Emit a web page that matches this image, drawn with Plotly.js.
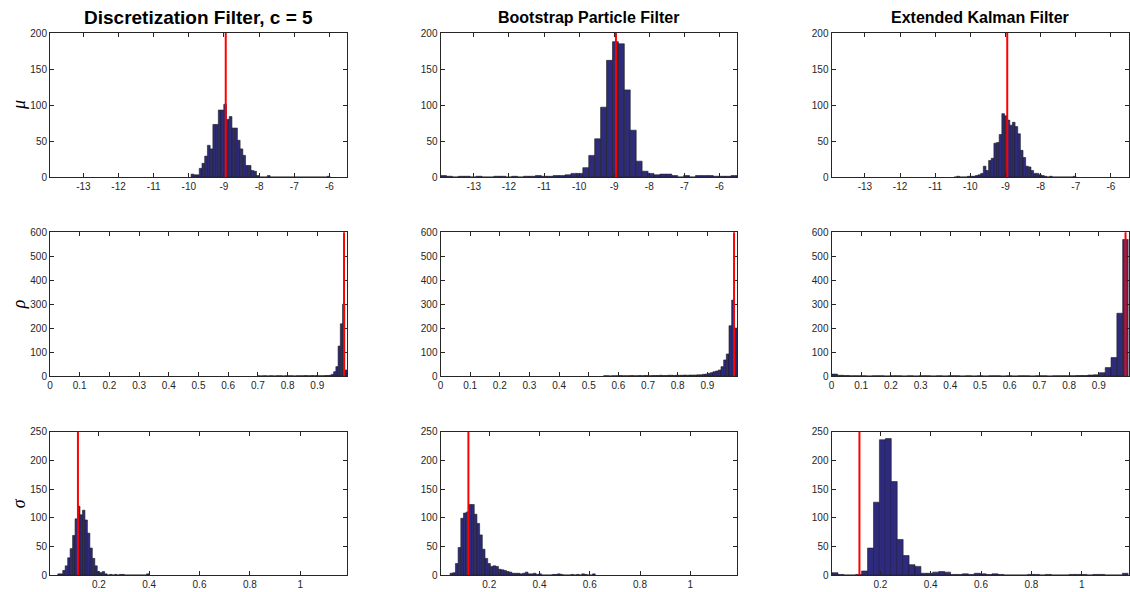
<!DOCTYPE html>
<html><head><meta charset="utf-8">
<script src="https://cdn.plot.ly/plotly-3.0.1.min.js"></script>
<style>html,body{margin:0;padding:0;background:#fff}#chart{width:1130px;height:592px}</style>
</head><body><div id="chart"></div>
<script>
// ---- Data ----
const columnTitles = ["Discretization Filter, c = 5", "Bootstrap Particle Filter", "Extended Kalman Filter"];
const rowLabels = ["μ", "ρ", "σ"];
const trueValues = [-8.95, 0.99, 0.117];   // red reference lines (mu, rho, sigma)

const muTicks = [-13, -12, -11, -10, -9, -8, -7, -6];
const rhoTicks = [0, 0.1, 0.2, 0.3, 0.4, 0.5, 0.6, 0.7, 0.8, 0.9];
const sigmaTicks = [0.2, 0.4, 0.6, 0.8, 1];

// histogram bins: first bin left edge, bin width, counts
const muDiscStart = -9.936, muDiscWidth = 0.0775;
const muDiscCounts = [4,3,3,12,19,29,44,39,73,73,93,93,101,80,84,68,68,51,39,30,16,16,9,8,2,
  0,0,0,2,0, 0,0,0,0,0, 0,0,0,0,0, 0,0,0,0,0, 0,0,0,0,0, 1];

const muBpfStart = -13.95, muBpfWidth = 0.169;
const muBpfCounts = [2,1,0,1,1,0,1,0,0,1,1,0,1,0,1,1,2,1,1,2,2,3,
  5,5,13,30,53,97,162,188,185,121,65,22,8,5,3,4,4,2,0,2,0,2,2,2,1,1,1,2];

const muEkfStart = -10.459, muEkfWidth = 0.0753;
const muEkfCounts = [0,1,0,0,0,1,1,1,2,3,5,15,9,23,26,47,48,59,88,85,79,72,76,70,60,37,27,15,14,9,5,5,3,2,1,0,1,
  0,0,0,0,0,0,0,0,1];

const rhoDiscStart = 0.7, rhoDiscWidth = 0.0075;
const rhoDiscCounts = [1,0,1,1,0,1,1,0,1,1,1,0,1,1,1,1,0,1,1,1,1,2,1,1,2,1,2,
  1,1,1,2,2,3,7,18,39,125,218,300,25];

const rhoBpfStart = 0.55, rhoBpfWidth = 0.009;
const rhoBpfCounts = [1,1,0,1,1,1,2,1,1,1,2,1,1,2,1,2,2,1,2,2,2,3,2,2,3,3,2,3,3,3,4,3,4,4,
  4,5,5,7,8,11,14,18,21,25,39,67,92,210,317,200];

const rhoEkfStart = 0.0004, rhoEkfWidth = 0.0196;
const rhoEkfCounts = [8,3,2,1,1,1,0,1,1,0,1,1,0,1,0,1,1,0,1,0,1,1,0,1,0,1,0,1,1,0,1,0,1,1,0,1,1,0,1,
  1,1,1,2,2,4,5,14,35,77,262,570];

const sigmaDiscStart = 0.037, sigmaDiscWidth = 0.0098;
const sigmaDiscCounts = [2,2,8,16,30,46,69,98,120,105,113,96,73,47,29,16,6,4,6,2,
  0,1,0,1,0,1,1,0,0,0, 0,0,0,0,0,0,2];

const sigmaBpfStart = 0.044, sigmaBpfWidth = 0.0107;
const sigmaBpfCounts = [3,4,20,48,99,108,110,123,123,106,90,70,45,29,20,15,16,15,10,9,
  8,6,5,3,3,3,2,3,5,2,2,3,1,2,0,0,0,0,1,1,2,1,0,0,0,1,0,1,0,2,1,0,0,2];

const sigmaEkfStart = 0.008, sigmaEkfWidth = 0.02355;
const sigmaEkfCounts = [4,1,0,0,1,7,47,127,236,238,163,62,34,18,15,3,3,5,6,5,
  1,1,2,1,3,2,1,2,1,0,0,0,0,1,1,0,1,0,0,0,1,1,1,0,1,1,0,0,0,3];

// ---- Build ----
const panels = [
  [muDiscStart, muDiscWidth, muDiscCounts], [muBpfStart, muBpfWidth, muBpfCounts], [muEkfStart, muEkfWidth, muEkfCounts],
  [rhoDiscStart, rhoDiscWidth, rhoDiscCounts], [rhoBpfStart, rhoBpfWidth, rhoBpfCounts], [rhoEkfStart, rhoEkfWidth, rhoEkfCounts],
  [sigmaDiscStart, sigmaDiscWidth, sigmaDiscCounts], [sigmaBpfStart, sigmaBpfWidth, sigmaBpfCounts], [sigmaEkfStart, sigmaEkfWidth, sigmaEkfCounts]
];
const W = 1130, H = 592;
const xDom = [[50, 347], [440.5, 737], [831.5, 1128.5]];
const yDom = [[33, 177], [232.3, 376], [431.7, 575]];
const xRanges = [[-13.95, -5.5], [0, 1.0], [0.006, 1.186]];
const yRanges = [[0, 200], [0, 600], [0, 250]];
const yTicks = [[0, 50, 100, 150, 200], [0, 100, 200, 300, 400, 500, 600], [0, 50, 100, 150, 200, 250]];
const xTicks = [muTicks, rhoTicks, sigmaTicks];
const titleSizes = [19, 16, 16];

const tickFont = {family: "Liberation Sans, Arial, sans-serif", size: 10, color: "#262626"};
const axColor = "#262626";

const data = [];
const layout = {
  width: W, height: H, margin: {l: 0, r: 0, t: 0, b: 0},
  paper_bgcolor: "#fff", plot_bgcolor: "#fff", showlegend: false,
  shapes: [], annotations: [], bargap: 0
};

for (let r = 0; r < 3; r++) {
  for (let c = 0; c < 3; c++) {
    const i = r * 3 + c + 1;
    const xa = "x" + (i === 1 ? "" : i), ya = "y" + (i === 1 ? "" : i);
    const [start, width, counts] = panels[i - 1];
    data.push({
      type: "bar", xaxis: xa, yaxis: ya,
      x0: start + width / 2, dx: width, y: counts, width: width,
      marker: {color: "#2e2b7d", line: {color: "#1c1c1c", width: 0.6}},
      hoverinfo: "skip"
    });
    const common = {
      showline: true, linecolor: axColor, linewidth: 1, mirror: "ticks",
      ticks: "inside", ticklen: 4, tickcolor: axColor, tickwidth: 1,
      showgrid: false, zeroline: false, tickfont: tickFont, fixedrange: true
    };
    layout["xaxis" + (i === 1 ? "" : i)] = Object.assign({}, common, {
      domain: [xDom[c][0] / W, xDom[c][1] / W], anchor: ya,
      range: xRanges[r], tickmode: "array", tickvals: xTicks[r], ticktext: xTicks[r].map(String)
    });
    layout["yaxis" + (i === 1 ? "" : i)] = Object.assign({}, common, {
      domain: [1 - yDom[r][1] / H, 1 - yDom[r][0] / H], anchor: xa,
      range: yRanges[r], tickmode: "array", tickvals: yTicks[r]
    });
    layout.shapes.push({
      type: "line", xref: xa, yref: ya + " domain",
      x0: trueValues[r], x1: trueValues[r], y0: 0, y1: 1,
      line: {color: "#ff0000", width: 2}, layer: "above"
    });
  }
}

for (let c = 0; c < 3; c++) {
  layout.annotations.push({
    text: "<b>" + columnTitles[c] + "</b>", xref: "paper", yref: "paper",
    x: (xDom[c][0] + xDom[c][1]) / 2 / W, y: 1 - 18 / H, xanchor: "center", yanchor: "middle",
    showarrow: false, font: {family: "Liberation Sans, Arial, sans-serif", size: titleSizes[c], color: "#000"}
  });
}
for (let r = 0; r < 3; r++) {
  layout.annotations.push({
    text: "<i>" + rowLabels[r] + "</i>", xref: "paper", yref: "paper",
    x: 19 / W, y: 1 - (yDom[r][0] + yDom[r][1]) / 2 / H, xanchor: "center", yanchor: "middle",
    textangle: -90, showarrow: false,
    font: {family: "Liberation Serif, Times New Roman, serif", size: 18, color: "#000"}
  });
}

Plotly.newPlot("chart", data, layout, {staticPlot: true, displayModeBar: false});
</script>
</body></html>
